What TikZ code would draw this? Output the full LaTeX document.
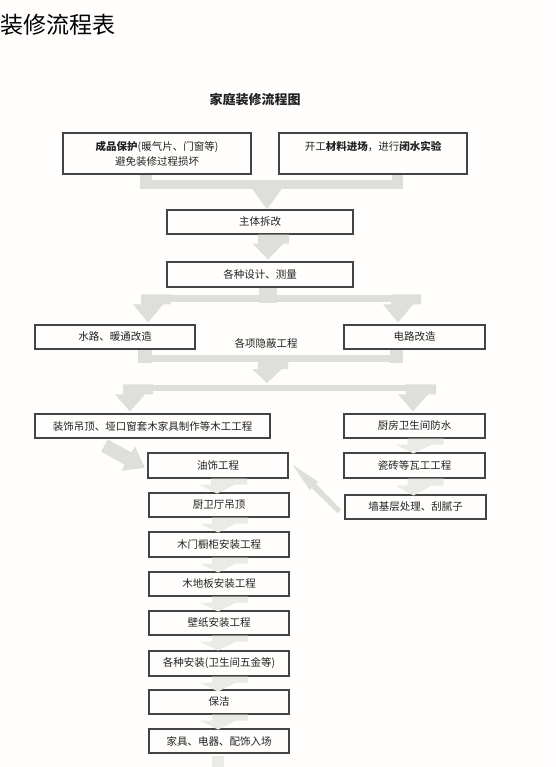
\documentclass[tikz,border=0pt]{standalone}
\usepackage{fontspec}
\setmainfont{Noto Sans CJK SC}
\usetikzlibrary{calc}
\definecolor{garrow}{HTML}{DEDEDA}
\definecolor{garrowl}{HTML}{EAEAE7}
\definecolor{boxline}{HTML}{444444}
\definecolor{txt}{HTML}{222222}
\definecolor{pagebg}{HTML}{FFFEFC}
\newcommand\dnarrow[6][garrow]{\fill[#1] (#2) ++(-#3,0) -- ++(0,#4) -- ++(#3-#5,0) -- ++(#5,#6) -- ++(#5,-#6) -- ++(#5-#3,0) -- ++(0,-#4) -- cycle;}
\begin{document}
\begin{tikzpicture}[x=1pt,y=-1pt,
  box/.style={draw=boxline, line width=1.1pt, inner sep=0pt, text=txt, align=center,
    font=\fontsize{10.5}{15}\selectfont},
  plain/.style={inner sep=0pt, text=txt, font=\fontsize{10.5}{15}\selectfont}]
\fill[pagebg] (0,0) rectangle (555,767);
\useasboundingbox (0,0) rectangle (555,767);
% titles
\node[plain, anchor=west, font=\fontsize{23}{26}\selectfont, text=black] (title) at (0,25) {装修流程表};
\node[plain, font=\fontsize{13}{15}\selectfont\bfseries] (sub) at (255,100) {家庭装修流程图};
% boxes
\node[box, minimum width=188, minimum height=41] (b1) at (157,153.5) {{\bfseries 成品保护}(暖气片、门窗等)\\避免装修过程损坏};
\node[box, minimum width=188, minimum height=41] (b2) at (373,153.5) {};
\node[plain] (b2t) at (373,146.5) {开工{\bfseries 材料进场}，进行{\bfseries 闭水实验}};
\node[box, minimum width=186, minimum height=24] (b3) at (260,222) {主体拆改};
\node[box, minimum width=186, minimum height=25] (b4) at (260,274.5) {各种设计、测量};
\node[box, minimum width=160, minimum height=24] (b5) at (115,337) {水路、暖通改造};
\node[box, minimum width=141, minimum height=24] (b6) at (414.5,337) {电路改造};
\node[plain] (lbl) at (266,343) {各项隐蔽工程};
\node[box, minimum width=235, minimum height=24] (b7) at (152.5,426) {装饰吊顶、垭口窗套木家具制作等木工工程};
\node[box, minimum width=141, minimum height=24] (b8) at (414.5,426) {厨房卫生间防水};
\node[box, minimum width=140, minimum height=25] (b9) at (218,465.5) {油饰工程};
\node[box, minimum width=141, minimum height=25] (b10) at (414.5,465.5) {瓷砖等瓦工工程};
\node[box, minimum width=140, minimum height=24] (b11) at (219,505) {厨卫厅吊顶};
\node[box, minimum width=141, minimum height=24] (b12) at (415.5,507) {墙基层处理、刮腻子};
\node[box, minimum width=140, minimum height=25] (b13) at (219,544.5) {木门橱柜安装工程};
\node[box, minimum width=140, minimum height=24] (b14) at (219,584) {木地板安装工程};
\node[box, minimum width=140, minimum height=24] (b15) at (219,623) {壁纸安装工程};
\node[box, minimum width=140, minimum height=25] (b16) at (219,663.5) {各种安装(卫生间五金等)};
\node[box, minimum width=140, minimum height=24] (b17) at (219,702) {保洁};
\node[box, minimum width=140, minimum height=24] (b18) at (219,741) {家具、电器、配饰入场};
% merge b1,b2 -> b3
\fill[garrow] ($(b1.south)+(-17,0)$) rectangle ++(12,14);
\fill[garrow] ($(b2.south)+(19,0)$) rectangle ++(11,14);
\fill[garrow] ($(b1.south)+(-17,5)$) rectangle ($(b2.south)+(30,14)$);
\dnarrow{$(b3.north)+(7,-23)$}{9}{2}{15}{21}
% b3 -> b4
\dnarrow{$(b3.south)+(8,0)$}{10}{9}{15.5}{16}
% b4 -> b5, b6
\fill[garrow] ($(b4.south)+(-1,0)$) rectangle ++(18,15);
\fill[garrow] (141,295) rectangle (405,302);
\dnarrow{$(b5.north -| 148,0)+(0,-30)$}{7}{10}{15}{18}
\dnarrow{$(b6.north -| 398,0)+(0,-30)$}{7}{10}{15}{18}
% merge b5,b6 -> split to b7,b8
\fill[garrow] ($(b5.south -| 138,0)$) rectangle ++(14,13);
\fill[garrow] ($(b6.south -| 390,0)$) rectangle ++(13,13);
\fill[garrow] (138,355) rectangle (403,362);
\dnarrow{267,361}{9}{8}{15}{14}
\fill[garrow] (123,385) rectangle (420,391);
\dnarrow{$(b7.north -| 130,0)+(0,-29)$}{7}{10}{15}{17}
\dnarrow{$(b8.north -| 413,0)+(0,-29)$}{7}{10}{15}{17}
% right column
\dnarrow[garrowl]{$(b8.south)+(-1,0)$}{6}{6}{18}{9}
\dnarrow[garrowl]{$(b10.south)+(-1,0)$}{6}{7}{18}{10}
% left column
\foreach \a in {b9,b11,b13,b14,b15,b16,b17}{
  \dnarrow[garrowl]{$(\a.south)+(-1,0)$}{6}{6}{18}{9}
}
\fill[garrowl] ($(b18.south)+(-7,2)$) rectangle ++(12,14);
% diagonal b7 -> b9
\begin{scope}[shift={($(b7.south west)+(70,7)$)}, rotate=-28.8]
  \fill[garrow] (0,-7) -- (27,-7) -- (27,-14) -- (46,0) -- (27,14) -- (27,7) -- (0,7) -- cycle;
\end{scope}
% diagonal b12 -> b9
\begin{scope}[shift={($(b12.north west)+(-5,17)$)}, rotate=135]
  \fill[garrow] (0,-2.5) -- (36,-3) -- (36,-6) -- (66,0) -- (36,6) -- (36,3) -- (0,2.5) -- cycle;
\end{scope}
\end{tikzpicture}
\end{document}
